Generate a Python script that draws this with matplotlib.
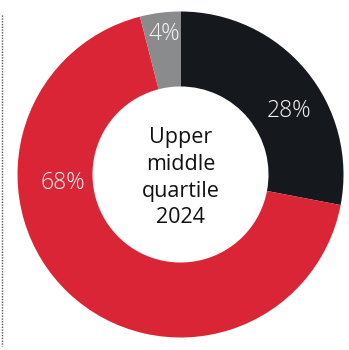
import matplotlib.pyplot as plt
from matplotlib.lines import Line2D

shares = [28, 68, 4]
labels = ["28%", "68%", "4%"]
colors = ["#15181d", "#d92535", "#898b8d"]
center_text = "Upper\nmiddle\nquartile\n2024"

# where each percentage sits (x, y in pie units)
label_pos = [(0.665, 0.39), (-0.72, -0.05), (-0.10, 0.86)]

fig = plt.figure(figsize=(3.49, 3.50), dpi=100)
W, H = 349, 350
cx, cy, r = 180.5, 174.5, 163
ax = fig.add_axes([(cx - r) / W, (H - cy - r) / H, 2 * r / W, 2 * r / H])

ax.pie(shares, colors=colors, startangle=90, counterclock=False,
       radius=1, wedgeprops=dict(width=0.46, linewidth=0))
ax.set_xlim(-1, 1)
ax.set_ylim(-1, 1)
ax.axis("off")

for txt, (x, y) in zip(labels, label_pos):
    ax.text(x, y, txt, ha="center", va="center", color="#f6f6f6",
            fontsize=16.5, family="Open Sans", fontweight="light", zorder=5)

ax.text(0, -0.02, center_text, ha="center", va="center", color="#111111",
        fontsize=15.5, family="Open Sans", linespacing=1.36, zorder=5)

# dotted rule on the left edge
fig.add_artist(Line2D([2 / W, 2 / W], [1 - 15 / H, 1 - 346 / H],
                      color="#555555", linestyle=(0, (1, 1)), linewidth=1))

fig.savefig("out.png", dpi=100)
